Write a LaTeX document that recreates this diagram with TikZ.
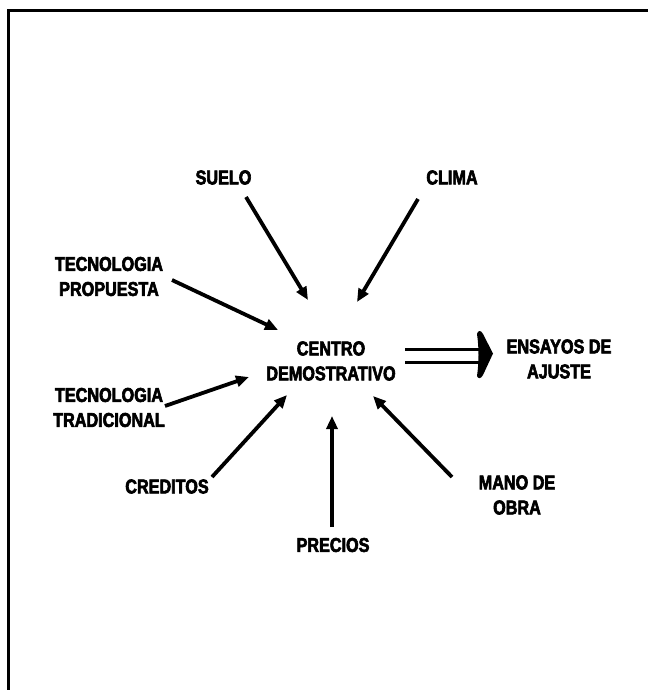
\documentclass[tikz,border=0pt]{standalone}
\usepackage{fontspec}
\setmainfont{Liberation Sans}
\newfontfamily\heavy{Liberation Sans Bold}[FakeBold=3, FakeStretch=0.81]
\usetikzlibrary{arrows.meta}
\tikzset{
  lbl/.style={font=\heavy\fontsize{20}{25}\selectfont, align=center, inner sep=0pt},
  feed/.style={line width=3.8pt, -{Triangle[length=13pt,width=11pt]}},
  frame/.style={line width=3pt}
}
\begin{document}
\begin{tikzpicture}[x=1pt,y=-1pt]
\useasboundingbox (0,0) rectangle (648,690);
\draw[frame] (8,690) -- (8,10.5) -- (648,10.5);

\node[lbl] (suelo) at (223.5,177.5) {SUELO};
\node[lbl] (clima) at (452,177.5) {CLIMA};
\node[lbl] (tprop) at (109,276.5) {TECNOLOGIA\\PROPUESTA};
\node[lbl] (centro) at (331,361) {CENTRO\\DEMOSTRATIVO};
\node[lbl] (ensayos) at (559,359) {ENSAYOS DE\\AJUSTE};
\node[lbl] (ttrad) at (109,407.5) {TECNOLOGIA\\TRADICIONAL};
\node[lbl] (cred) at (167,486.5) {CREDITOS};
\node[lbl] (prec) at (333,545) {PRECIOS};
\node[lbl] (mano) at (517,495) {MANO DE\\OBRA};

\coordinate (s0) at (246,197); \coordinate (s1) at (308,300);
\coordinate (c0) at (418,199); \coordinate (c1) at (357,302);
\coordinate (p0) at (172,280); \coordinate (p1) at (278,330);
\coordinate (t0) at (165,406); \coordinate (t1) at (249,377);
\coordinate (r0) at (212,477); \coordinate (r1) at (287,395);
\coordinate (e0) at (332,527); \coordinate (e1) at (332,416);
\coordinate (m0) at (452,477); \coordinate (m1) at (373,396);

\draw[feed] (s0) -- (s1);
\draw[feed] (c0) -- (c1);
\draw[feed] (p0) -- (p1);
\draw[feed] (t0) -- (t1);
\draw[feed] (r0) -- (r1);
\draw[feed] (e0) -- (e1);
\draw[feed] (m0) -- (m1);

% double arrow
\coordinate (d0) at (405,355.5); \coordinate (d1) at (493,353.5);
\draw[line width=3pt] ([yshift=-6.5pt]d0) -- ++(76,0);
\draw[line width=3pt] ([yshift=6.5pt]d0) -- ++(76,0);
\fill (477,334) .. controls (478,330) and (481,330) .. (483,334)
      -- (d1) -- (483,375)
      .. controls (481,379) and (478,379) .. (477,376)
      .. controls (479,362) and (479,348) .. cycle;
\end{tikzpicture}
\end{document}
